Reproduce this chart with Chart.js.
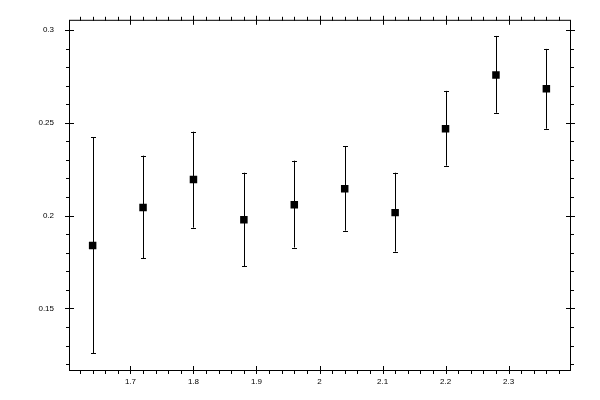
<!DOCTYPE html>
<html>
<head>
<meta charset="utf-8">
<script src="https://cdn.jsdelivr.net/npm/chart.js@4/dist/chart.umd.min.js"></script>
<style>
  html, body { margin: 0; padding: 0; background: #fff; }
  #wrap { width: 600px; height: 400px; }
</style>
</head>
<body>
<div id="wrap"><canvas id="plot" width="600" height="400"></canvas></div>
<script>
// measured points with asymmetric error bars
const xVals  = [1.64, 1.72, 1.80, 1.88, 1.96, 2.04, 2.12, 2.20, 2.28, 2.36];
const yVals  = [0.1839, 0.2043, 0.2194, 0.1978, 0.2059, 0.2145, 0.2016, 0.2468, 0.2758, 0.2683];
const yHigh  = [0.2421, 0.2323, 0.2452, 0.2231, 0.2296, 0.2373, 0.2231, 0.2672, 0.2968, 0.2898];
const yLow   = [0.1258, 0.1769, 0.1935, 0.1726, 0.1828, 0.1919, 0.1806, 0.2269, 0.2554, 0.2468];

// tick labels
const xTicks = [1.7, 1.8, 1.9, 2.0, 2.1, 2.2, 2.3];
const yTicks = [0.15, 0.2, 0.25, 0.3];
const xMinorStep = 0.02;
const yMinorStep = 0.01;

const labelFont = { family: 'Liberation Sans', size: 8 };

// error bars under the markers
const errorBars = {
  id: 'errorBars',
  beforeDatasetsDraw(chart) {
    const { ctx, scales: { x, y } } = chart;
    ctx.save();
    ctx.strokeStyle = '#000';
    ctx.lineWidth = 1;
    xVals.forEach((xv, i) => {
      const px = Math.round(x.getPixelForValue(xv)) + 0.5;
      const top = y.getPixelForValue(yHigh[i]);
      const bot = y.getPixelForValue(yLow[i]);
      ctx.beginPath();
      ctx.moveTo(px, top); ctx.lineTo(px, bot);
      ctx.moveTo(px - 2.5, Math.round(top) + 0.5); ctx.lineTo(px + 2.5, Math.round(top) + 0.5);
      ctx.moveTo(px - 2.5, Math.round(bot) + 0.5); ctx.lineTo(px + 2.5, Math.round(bot) + 0.5);
      ctx.stroke();
    });
    ctx.restore();
  }
};

// box frame plus major/minor ticks on all four sides
const frameTicks = {
  id: 'frameTicks',
  afterDraw(chart) {
    const { ctx, chartArea: a, scales: { x, y } } = chart;
    ctx.save();
    ctx.strokeStyle = '#000';
    ctx.lineWidth = 1;
    ctx.strokeRect(a.left + 0.5, a.top + 0.5, a.right - a.left, a.bottom - a.top);
    ctx.beginPath();
    const near = (v, list) => list.some(t => Math.abs(t - v) < 1e-6);
    // x ticks
    for (let v = 1.62; v < x.max; v += xMinorStep) {
      const px = Math.round(x.getPixelForValue(v)) + 0.5;
      if (near(v, xTicks)) {
        ctx.moveTo(px, a.bottom - 4); ctx.lineTo(px, a.bottom + 4);
        ctx.moveTo(px, a.top - 4); ctx.lineTo(px, a.top + 5);
      } else {
        ctx.moveTo(px, a.bottom); ctx.lineTo(px, a.bottom + 4);
        ctx.moveTo(px, a.top + 1); ctx.lineTo(px, a.top - 3);
      }
    }
    // y ticks
    for (let v = 0.12; v < y.max; v += yMinorStep) {
      const py = Math.round(y.getPixelForValue(v)) + 0.5;
      if (near(v, yTicks)) {
        ctx.moveTo(a.left - 4, py); ctx.lineTo(a.left + 5, py);
        ctx.moveTo(a.right - 4, py); ctx.lineTo(a.right + 5, py);
      } else {
        ctx.moveTo(a.left + 1, py); ctx.lineTo(a.left - 3, py);
        ctx.moveTo(a.right, py); ctx.lineTo(a.right + 4, py);
      }
    }
    ctx.stroke();
    ctx.restore();
  }
};

new Chart(document.getElementById('plot'), {
  type: 'scatter',
  data: {
    datasets: [{
      data: xVals.map((xv, i) => ({ x: xv, y: yVals[i] })),
      pointStyle: 'rect',
      pointRadius: 5.3,
      pointHoverRadius: 5.3,
      backgroundColor: '#000',
      borderWidth: 0,
      showLine: false
    }]
  },
  options: {
    responsive: false,
    animation: false,
    devicePixelRatio: 1,
    layout: { padding: { top: 19, right: 30, bottom: 0, left: 0 } },
    plugins: { legend: { display: false }, tooltip: { enabled: false } },
    scales: {
      x: {
        type: 'linear',
        position: 'bottom',
        min: 1.6025,
        max: 2.3975,
        grid: { display: false, drawTicks: false },
        border: { display: false },
        ticks: { font: labelFont, color: '#000', padding: 7, maxRotation: 0, callback: v => String(v) },
        afterBuildTicks: s => { s.ticks = xTicks.map(v => ({ value: v })); },
        afterFit: s => { s.height = 30; }
      },
      y: {
        type: 'linear',
        position: 'left',
        min: 0.1168,
        max: 0.3055,
        grid: { display: false, drawTicks: false },
        border: { display: false },
        ticks: { font: labelFont, color: '#000', padding: 15, callback: v => String(v) },
        afterBuildTicks: s => { s.ticks = yTicks.map(v => ({ value: v })); },
        afterFit: s => { s.width = 69; }
      }
    }
  },
  plugins: [errorBars, frameTicks]
});
</script>
</body>
</html>
